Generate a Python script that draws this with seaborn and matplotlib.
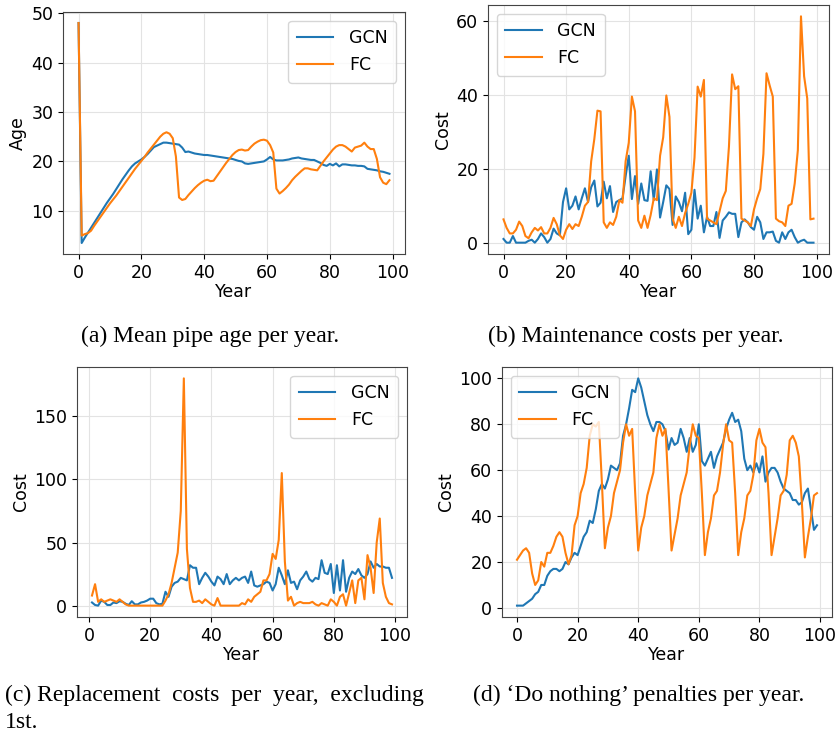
import numpy as np
import pandas as pd
import seaborn as sns
import matplotlib.pyplot as plt

years = list(range(100))
years_repl = list(range(1, 100))   # replacement costs skip the 1st year

# (a) mean pipe age per year
age_gcn = [48.0, 3.5, 4.6, 5.6, 6.6, 7.6, 8.6, 9.6, 10.6, 11.6,
           12.5, 13.4, 14.4, 15.4, 16.4, 17.3, 18.2, 19.0, 19.6, 20.0,
           20.4, 20.9, 21.5, 22.2, 22.9, 23.2, 23.5, 23.8, 23.8, 23.7,
           23.6, 23.5, 23.4, 22.8, 21.9, 22.0, 21.8, 21.6, 21.5, 21.4,
           21.3, 21.3, 21.2, 21.1, 21.0, 20.9, 20.8, 20.7, 20.6, 20.5,
           20.3, 20.1, 20.0, 19.6, 19.5, 19.6, 19.7, 19.8, 19.9, 20.0,
           20.4, 20.9, 20.4, 20.2, 20.2, 20.2, 20.3, 20.4, 20.6, 20.7,
           20.8, 20.6, 20.5, 20.4, 20.3, 20.3, 20.0, 19.7, 19.3, 19.1,
           19.5, 19.2, 19.6, 19.0, 19.4, 19.4, 19.3, 19.2, 19.2, 19.1,
           19.1, 19.0, 18.5, 18.4, 18.3, 18.2, 18.0, 17.9, 17.7, 17.5]
age_fc = [48.0, 5.0, 5.3, 5.5, 6.0, 7.0, 7.9, 8.8, 9.7, 10.6,
          11.5, 12.3, 13.1, 14.0, 14.9, 15.8, 16.7, 17.6, 18.5, 19.3,
          20.1, 20.9, 21.8, 22.6, 23.4, 24.2, 25.0, 25.6, 25.9, 25.6,
          24.7, 21.0, 12.7, 12.2, 12.4, 13.2, 13.9, 14.6, 15.2, 15.7,
          16.1, 16.3, 16.0, 16.1, 17.0, 17.9, 18.8, 19.7, 20.5, 21.3,
          21.9, 22.3, 22.4, 22.2, 22.3, 23.0, 23.6, 24.0, 24.3, 24.4,
          24.2, 23.3, 21.8, 14.5, 13.5, 14.0, 14.6, 15.3, 16.2, 16.9,
          17.5, 18.1, 18.6, 18.6, 18.4, 18.3, 18.2, 19.1, 20.0, 20.8,
          21.6, 22.4, 23.0, 23.3, 23.3, 23.0, 22.5, 22.0, 22.8, 23.0,
          23.2, 23.8, 23.0, 22.5, 22.5, 20.5, 16.8, 15.7, 15.4, 16.2]

# (b) maintenance costs per year
maint_gcn = [1.0, 0.0, 0.0, 1.8, 0.0, 0.0, 0.0, 0.0, 0.5, 0.8,
             0.0, 1.0, 2.5, 1.5, 0.0, 1.0, 3.8, 2.5, 2.0, 11.0,
             14.7, 9.0, 10.0, 12.5, 9.0, 12.0, 14.7, 11.0, 15.0, 16.8,
             9.8, 10.8, 16.5, 12.0, 15.3, 8.3, 11.0, 11.5, 12.0, 18.0,
             23.5, 11.8, 18.0, 10.5, 16.0, 11.5, 11.3, 19.3, 11.5, 19.8,
             6.8, 11.0, 15.5, 14.5, 4.8, 12.5, 11.0, 8.5, 13.5, 2.3,
             3.5, 14.3, 6.5, 10.0, 2.8, 7.0, 4.5, 4.5, 8.3, 1.3,
             6.0, 7.0, 8.2, 7.8, 7.8, 1.5, 5.5, 6.3, 5.5, 4.2,
             3.5, 7.0, 5.5, 1.0, 2.8, 2.8, 3.0, 0.5, 0.0, 2.8,
             1.0, 2.8, 3.5, 1.5, 0.0, 0.5, 0.8, 0.0, 0.0, 0.0]
maint_fc = [6.3, 4.0, 2.5, 2.5, 3.5, 5.7, 4.5, 1.8, 1.2, 2.8,
            4.0, 3.3, 4.2, 2.5, 2.5, 4.0, 6.7, 5.0, 2.0, 1.0,
            3.5, 5.0, 3.7, 5.0, 4.5, 7.0, 10.0, 11.0, 22.0, 28.0,
            35.7, 35.5, 5.5, 4.0, 5.5, 4.8, 7.0, 11.5, 10.8, 22.0,
            27.0, 39.5, 35.5, 6.0, 4.0, 7.3, 4.0, 7.5, 12.0, 11.5,
            23.5, 28.5, 39.8, 34.0, 6.5, 4.0, 7.0, 4.5, 8.0, 10.5,
            13.5, 23.0, 42.2, 39.5, 44.0, 6.5, 6.0, 5.5, 5.0, 8.5,
            12.0, 14.0, 26.0, 45.5, 41.5, 42.3, 6.5, 6.0, 5.5, 4.5,
            9.0, 12.0, 14.5, 24.0, 45.8, 42.5, 39.5, 6.5, 5.8, 5.5,
            4.5, 10.0, 10.5, 16.0, 25.0, 61.2, 45.0, 39.0, 6.3, 6.5]

# (c) replacement costs per year, years 1..99
repl_gcn = [2.5, 0.5, 0.0, 4.0, 3.0, 0.5, 0.5, 2.5, 2.0, 3.5,
            3.0, 1.5, 0.5, 3.5, 1.0, 1.0, 2.5, 3.0, 4.0, 5.5,
            5.5, 2.0, 1.0, 1.5, 11.0, 7.0, 15.0, 18.0, 19.0, 22.0,
            21.0, 20.0, 32.0, 30.0, 30.0, 17.0, 22.0, 26.0, 23.0, 19.0,
            16.0, 23.0, 21.0, 17.0, 25.0, 17.0, 20.0, 22.0, 20.0, 22.0,
            23.0, 18.0, 27.0, 16.0, 15.0, 16.0, 17.0, 19.0, 18.0, 12.0,
            17.0, 30.0, 24.0, 17.0, 28.0, 18.0, 19.0, 13.0, 20.0, 23.0,
            27.0, 21.0, 19.0, 22.0, 21.0, 36.0, 26.0, 25.0, 33.0, 10.0,
            32.0, 12.0, 36.0, 11.0, 22.0, 27.0, 25.0, 29.0, 24.0, 22.0,
            25.0, 35.0, 30.0, 33.0, 31.0, 31.0, 30.0, 30.0, 22.0]
repl_fc = [8.0, 17.0, 3.0, 5.0, 3.0, 4.0, 5.0, 4.0, 3.0, 5.0,
           3.0, 1.0, 0.0, 0.0, 0.0, 0.0, 0.0, 0.0, 0.0, 0.0,
           0.0, 0.0, 0.0, 0.0, 4.0, 9.0, 18.0, 30.0, 42.0, 75.0,
           180.0, 45.0, 14.0, 3.0, 3.0, 4.0, 2.0, 5.0, 3.0, 1.0,
           0.0, 6.0, 0.0, 0.0, 0.0, 0.0, 0.0, 0.0, 0.0, 2.0,
           1.0, 5.0, 3.0, 7.0, 9.0, 11.0, 20.0, 20.0, 25.0, 41.0,
           37.0, 52.0, 105.0, 35.0, 4.0, 7.0, 0.0, 2.0, 3.0, 2.0,
           2.0, 2.0, 3.0, 1.0, 0.0, 2.0, 1.0, 0.0, 5.0, 3.0,
           0.0, 7.0, 9.0, 0.0, 10.0, 20.0, 2.0, 20.0, 22.0, 5.0,
           40.0, 30.0, 10.0, 50.0, 69.0, 18.0, 7.0, 2.0, 1.0]

# (d) 'do nothing' penalties per year
pen_gcn = [1, 1, 1, 2, 3, 4, 6, 7, 10, 10,
           14, 16, 17, 17, 16, 17, 20, 19, 22, 24,
           23, 27, 31, 33, 38, 37, 43, 51, 54, 52,
           56, 62, 61, 60, 63, 75, 80, 87, 95, 94,
           100, 96, 90, 84, 80, 77, 81, 81, 80, 77,
           69, 74, 71, 72, 78, 74, 68, 74, 68, 71,
           80, 64, 62, 65, 68, 61, 66, 69, 72, 78,
           82, 85, 81, 82, 77, 65, 60, 62, 59, 63,
           59, 66, 55, 59, 61, 61, 59, 55, 52, 51,
           50, 47, 47, 45, 46, 50, 52, 43, 34, 36]
pen_fc = [21, 23, 25, 26, 24, 15, 10, 12, 20, 18,
          24, 24, 27, 31, 33, 31, 24, 19, 23, 36,
          40, 50, 54, 61, 75, 80, 79, 81, 55, 26,
          35, 40, 50, 55, 60, 72, 80, 75, 78, 50,
          25, 35, 40, 49, 54, 59, 74, 80, 75, 78,
          52, 25, 32, 39, 49, 54, 59, 71, 80, 75,
          74, 50, 23, 33, 39, 49, 51, 59, 71, 80,
          73, 72, 50, 23, 33, 39, 49, 51, 58, 73,
          78, 72, 70, 50, 23, 31, 39, 49, 51, 58,
          73, 75, 72, 66, 46, 22, 31, 39, 49, 50]

captions = ["(a) Mean pipe age per year.",
            "(b) Maintenance costs per year.",
            "(c) Replacement  costs  per  year,  excluding",
            "(d) \u2018Do nothing\u2019 penalties per year."]

plt.rcParams['font.family'] = ['DejaVu Sans']

fig = plt.figure(figsize=(8.38, 7.4), dpi=100)
W, H = 838, 740


def px_axes(l, t, r, b):
    return fig.add_axes([l / W, 1 - b / H, (r - l) / W, (b - t) / H])


def draw(ax, x, gcn, fc, ylabel, loc):
    df = pd.DataFrame({'Year': list(x) * 2,
                       'val': list(gcn) + list(fc),
                       'model': ['GCN'] * len(x) + ['FC'] * len(x)})
    sns.lineplot(data=df, x='Year', y='val', hue='model', ax=ax,
                 palette={'GCN': '#1f77b4', 'FC': '#ff7f0e'}, linewidth=1.5)
    ax.grid(True, color='#e3e3e3', linewidth=0.8)
    ax.set_axisbelow(True)
    ax.set_xlabel('Year', fontsize=12.5, labelpad=1)
    ax.set_ylabel(ylabel, fontsize=12.5, labelpad=3)
    ax.tick_params(labelsize=12.5)
    ax.set_xticks([0, 20, 40, 60, 80, 100])
    for s in ax.spines.values():
        s.set_color('#444444')
    ax.legend(loc=loc, fontsize=12.5, handlelength=2.1, handletextpad=0.9,
              borderpad=0.5, title=None)


ax_a = px_axes(63, 12, 405, 254)
draw(ax_a, years, age_gcn, age_fc, 'Age', 'upper right')
ax_a.set_yticks([10, 20, 30, 40, 50])

ax_b = px_axes(488, 5, 829, 254)
draw(ax_b, years, maint_gcn, maint_fc, 'Cost', 'upper left')
ax_b.set_yticks([0, 20, 40, 60])

ax_c = px_axes(77, 367, 407, 617)
draw(ax_c, years_repl, repl_gcn, repl_fc, 'Cost', 'upper right')
ax_c.set_yticks([0, 50, 100, 150])

ax_d = px_axes(502, 367, 832, 617)
draw(ax_d, years, pen_gcn, pen_fc, 'Cost', 'upper left')
ax_d.set_yticks([0, 20, 40, 60, 80, 100])

cap = dict(fontsize=17, family=['Liberation Serif'], va='center')
fig.text(210 / W, 1 - 336 / H, captions[0], ha='center', **cap)
fig.text(636 / W, 1 - 336 / H, captions[1], ha='center', **cap)
fig.text(5 / W, 1 - 695 / H, captions[2], ha='left', **cap)
fig.text(5 / W, 1 - 723 / H, "1st.", ha='left', **cap)
fig.text(639 / W, 1 - 695 / H, captions[3], ha='center', **cap)

fig.savefig('out.png', dpi=100)
